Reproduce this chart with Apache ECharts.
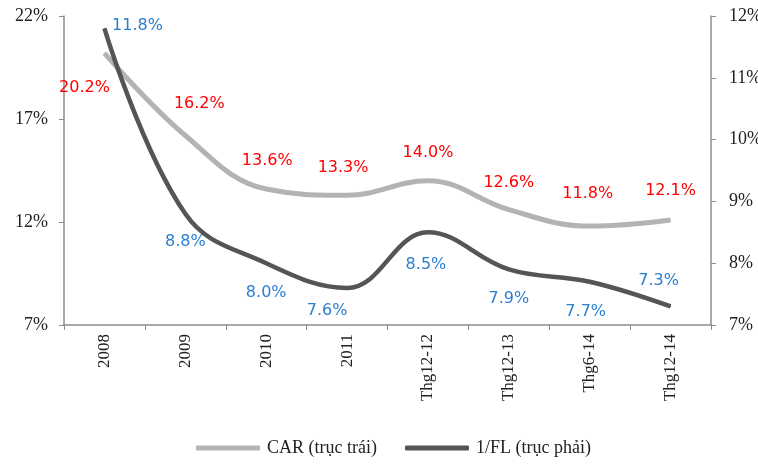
<!DOCTYPE html>
<html>
<head>
<meta charset="utf-8">
<script src="https://cdn.jsdelivr.net/npm/echarts@6/dist/echarts.min.js"></script>
<style>
  html, body { margin: 0; padding: 0; background: #fff; }
  #chart { width: 758px; height: 464px; }
</style>
</head>
<body>
<div id="chart"></div>
<script>
const categories = ["2008", "2009", "2010", "2011", "Thg12-12", "Thg12-13", "Thg6-14", "Thg12-14"]
const carValues = [20.2, 16.2, 13.6, 13.3, 14.0, 12.6, 11.8, 12.1]
const flValues = [11.8, 8.8, 8.0, 7.6, 8.5, 7.9, 7.7, 7.3]
const seriesNames = ["CAR (trục trái)", "1/FL (trục phải)"]

// label nudges (label centre vs point)
const carLabelOffsets = [[-20, 35], [14, -31], [1, -28], [-4, -27], [0, -27], [0, -26], [-2, -32], [0, -29]]
const flLabelOffsets = [[33, -2], [0, 29], [0, 30], [-20, 23], [-2, 33], [0, 30], [-4, 31], [-12, -25]]

const colors = {
  car: "#b3b3b3",
  fl: "#555555",
  carLabel: "#ff0000",
  flLabel: "#2a7fd0",
  axis: "#8c8c8c",
  text: "#222"
}

const serif = "Liberation Serif"
const chart = echarts.init(document.getElementById("chart"))

// 'top' puts the label centre ~13px above the point, so shift by that
const makeData = (values, offsets) => values.map((v, i) => ({
  value: v,
  label: { offset: [offsets[i][0], offsets[i][1] + 13] }
}))

const option = {
  animation: false,
  backgroundColor: "#fff",
  grid: { left: 64, right: 47, top: 16, bottom: 139, containLabel: false, outerBoundsMode: "none" },
  legend: {
    data: seriesNames,
    bottom: 2,
    left: 191,
    icon: "roundRect",
    itemWidth: 64,
    itemHeight: 5,
    itemGap: 28,
    textStyle: { fontFamily: serif, fontSize: 18, color: colors.text, padding: [0, 0, 0, 2] }
  },
  xAxis: {
    type: "category",
    data: categories,
    boundaryGap: true,
    axisLine: { lineStyle: { color: colors.axis, width: 1.5 } },
    axisTick: { show: true, length: 5, interval: 0, lineStyle: { color: colors.axis } },
    axisLabel: {
      rotate: 90,
      interval: 0,
      margin: 9,
      fontFamily: serif,
      fontSize: 17,
      color: colors.text
    }
  },
  yAxis: [
    {
      type: "value",
      min: 7,
      max: 22,
      interval: 5,
      axisLine: { show: true, lineStyle: { color: colors.axis, width: 1.5 } },
      axisTick: { show: true, length: 5, lineStyle: { color: colors.axis } },
      splitLine: { show: false },
      axisLabel: {
        formatter: "{value}%",
        fontFamily: serif,
        fontSize: 18,
        color: colors.text,
        margin: 16
      }
    },
    {
      type: "value",
      min: 7,
      max: 12,
      interval: 1,
      position: "right",
      axisLine: { show: true, lineStyle: { color: colors.axis, width: 1.5 } },
      axisTick: { show: true, length: 5, lineStyle: { color: colors.axis } },
      splitLine: { show: false },
      axisLabel: {
        formatter: "{value}%",
        fontFamily: serif,
        fontSize: 18,
        color: colors.text,
        margin: 18
      }
    }
  ],
  series: [
    {
      name: seriesNames[0],
      type: "line",
      yAxisIndex: 0,
      smooth: 0.4,
      symbol: "circle",
      symbolSize: 1,
      showSymbol: true,
      data: makeData(carValues, carLabelOffsets),
      lineStyle: { color: colors.car, width: 5 },
      itemStyle: { color: colors.car },
      label: {
        show: true,
        position: "top",
        formatter: (p) => p.value.toFixed(1) + "%",
        fontFamily: "DejaVu Sans",
        fontSize: 16,
        color: colors.carLabel
      }
    },
    {
      name: seriesNames[1],
      type: "line",
      yAxisIndex: 1,
      smooth: 0.4,
      symbol: "circle",
      symbolSize: 1,
      showSymbol: true,
      data: makeData(flValues, flLabelOffsets),
      lineStyle: { color: colors.fl, width: 4.5 },
      itemStyle: { color: colors.fl },
      label: {
        show: true,
        position: "top",
        formatter: (p) => p.value.toFixed(1) + "%",
        fontFamily: "DejaVu Sans",
        fontSize: 16,
        color: colors.flLabel
      }
    }
  ]
}

chart.setOption(option)
</script>
</body>
</html>
